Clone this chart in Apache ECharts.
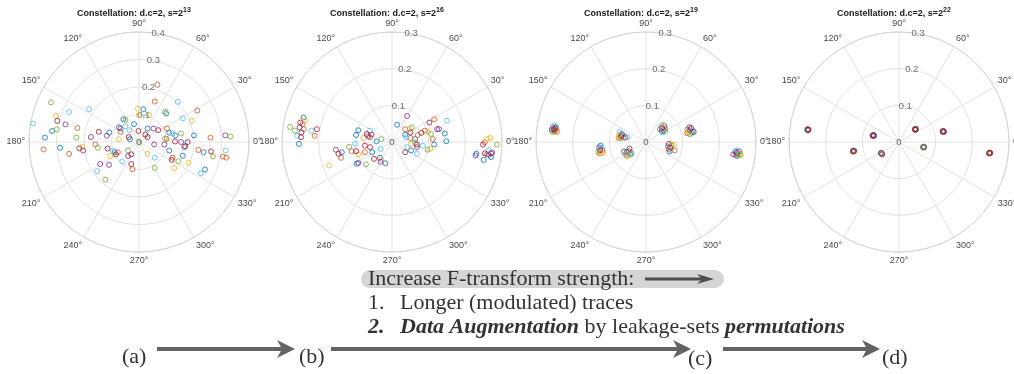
<!DOCTYPE html>
<html>
<head>
<meta charset="utf-8">
<script src="https://cdn.jsdelivr.net/npm/echarts@6/dist/echarts.min.js"></script>
<style>
  html, body { margin: 0; padding: 0; background: #ffffff; }
  #chart { width: 1014px; height: 374px; }
</style>
</head>
<body>
<div id="chart"></div>
<script>
// MATLAB default colour order, indexed by the third entry of each point
const palette = ['#0072BD', '#D95319', '#EDB120', '#7E2F8E', '#77AC30', '#4DBEEE', '#A2142F'];

// Panel titles: exponent of the number of traces s = 2^k
const sExponents = ['13', '16', '19', '22'];

// Radial extent and radial tick labels for each panel
const rMax = [0.4, 0.3, 0.3, 0.3];
const rTicksWide = [0, 0.1, 0.2, 0.3, 0.4];
const rTicksNarrow = [0, 0.1, 0.2, 0.3];

// Constellation points as [in-phase, quadrature, colour index]
const iqS13 = [
  [-0.385, 0.067, 5], [-0.320, 0.144, 4], [-0.302, 0.095, 2], [-0.297, 0.077, 6], [-0.299, 0.046, 4],
  [-0.267, 0.064, 3], [-0.316, 0.040, 0], [-0.342, 0.016, 0], [-0.347, -0.027, 1], [-0.287, -0.021, 0],
  [-0.254, -0.043, 1], [-0.254, 0.109, 5], [-0.181, 0.119, 5], [-0.224, 0.051, 1], [-0.228, 0.016, 4],
  [-0.217, -0.023, 6], [-0.206, -0.018, 2], [-0.203, -0.031, 3], [-0.175, 0.018, 3], [-0.146, 0.037, 6],
  [-0.159, -0.009, 1], [-0.150, -0.021, 4], [-0.117, 0.023, 3], [-0.108, 0.034, 0], [-0.114, -0.024, 6],
  [-0.095, -0.033, 5], [-0.088, -0.037, 0], [-0.084, -0.045, 6], [-0.104, -0.051, 2], [-0.077, -0.037, 1],
  [-0.061, -0.071, 5], [-0.141, -0.080, 3], [-0.109, -0.083, 3], [-0.152, -0.106, 5], [-0.122, -0.137, 4],
  [-0.024, -0.099, 1], [-0.028, -0.080, 6], [-0.040, -0.051, 3], [-0.028, -0.045, 6], [-0.040, -0.031, 4],
  [-0.073, 0.010, 2], [-0.067, 0.037, 1], [-0.057, 0.083, 0], [-0.050, 0.057, 5], [-0.067, 0.049, 0],
  [-0.073, 0.053, 3], [-0.037, 0.018, 6], [-0.033, 0.010, 0], [-0.035, 0.043, 5], [-0.018, 0.065, 0],
  [-0.049, 0.080, 4], [-0.004, 0.121, 2], [0.016, 0.119, 0], [0.037, 0.098, 2], [0.000, 0.098, 2],
  [0.018, 0.104, 5], [-0.002, 0.040, 6], [0.001, -0.001, 4], [0.031, 0.049, 0], [0.023, 0.027, 6],
  [0.053, 0.049, 3], [0.055, -0.009, 3], [0.031, 0.018, 6], [0.057, 0.147, 1], [0.067, 0.208, 1],
  [0.031, -0.043, 2], [0.057, -0.057, 5], [0.057, -0.094, 4], [0.070, 0.043, 6], [0.102, 0.049, 1],
  [0.110, 0.034, 0], [0.100, 0.011, 1], [0.092, -0.009, 3], [0.094, 0.110, 4], [0.099, 0.104, 0],
  [0.141, 0.146, 5], [0.159, 0.086, 5], [0.192, 0.077, 2], [0.212, 0.114, 1], [0.132, 0.024, 0],
  [0.122, 0.031, 5], [0.095, 0.013, 4], [0.153, 0.031, 4], [0.131, 0.002, 6], [0.153, 0.000, 3],
  [0.165, -0.018, 6], [0.168, -0.015, 0], [0.177, 0.000, 6], [0.110, -0.031, 0], [0.119, -0.065, 6],
  [0.122, -0.057, 1], [0.143, -0.070, 4], [0.159, -0.050, 0], [0.180, -0.075, 2], [0.128, -0.095, 2],
  [0.200, 0.024, 0], [0.260, 0.016, 1], [0.314, 0.024, 3], [0.332, 0.020, 4], [0.216, -0.029, 1],
  [0.235, -0.037, 0], [0.262, -0.034, 6], [0.269, -0.053, 4], [0.305, -0.053, 1], [0.317, -0.057, 1],
  [0.315, -0.031, 5], [0.240, -0.100, 0], [0.225, -0.114, 5]
];

const iqS16 = [
  [-0.241, 0.067, 0], [-0.250, 0.053, 6], [-0.238, 0.059, 2], [-0.252, 0.040, 3], [-0.241, 0.035, 1],
  [-0.247, 0.026, 6], [-0.248, 0.013, 6], [-0.278, 0.041, 4], [-0.265, 0.031, 4], [-0.259, 0.017, 5],
  [-0.254, -0.005, 0], [-0.220, 0.031, 5], [-0.205, 0.035, 6], [-0.211, 0.017, 1], [-0.244, 0.048, 1],
  [-0.092, 0.032, 0], [-0.098, 0.019, 0], [-0.060, 0.031, 5], [-0.069, 0.022, 6], [-0.060, 0.013, 1],
  [-0.078, 0.011, 2], [-0.056, 0.020, 6], [-0.065, 0.016, 3], [-0.029, 0.008, 4], [-0.042, 0.002, 0],
  [-0.101, -0.005, 5], [-0.117, -0.013, 4], [-0.110, -0.025, 1], [-0.098, -0.025, 6], [-0.092, -0.034, 2],
  [-0.074, -0.010, 6], [-0.074, -0.028, 1], [-0.060, -0.014, 6], [-0.054, -0.028, 0], [-0.031, -0.019, 5],
  [-0.153, -0.021, 3], [-0.137, -0.028, 0], [-0.146, -0.032, 6], [-0.139, -0.043, 1], [-0.171, -0.064, 2],
  [-0.096, -0.059, 0], [-0.092, -0.057, 3], [-0.071, -0.061, 4], [-0.049, -0.046, 6], [-0.033, -0.043, 0],
  [-0.029, -0.049, 2], [-0.031, -0.054, 3], [-0.018, -0.058, 0],
  [0.014, 0.047, 0], [0.041, 0.071, 3], [0.036, 0.035, 1], [0.048, 0.036, 2], [0.054, 0.040, 4],
  [0.036, 0.020, 0], [0.039, 0.013, 5], [0.050, 0.026, 6], [0.050, 0.011, 1], [0.063, 0.008, 0],
  [0.070, 0.019, 1], [0.063, -0.001, 4], [0.068, -0.007, 6], [0.068, -0.014, 3], [0.052, -0.023, 0],
  [0.068, -0.032, 5], [0.036, -0.028, 6], [0.041, -0.014, 5], [0.052, -0.005, 2], [0.102, 0.053, 6],
  [0.115, 0.062, 1], [0.090, 0.031, 1], [0.080, 0.025, 6], [0.106, 0.022, 4], [0.111, 0.008, 1],
  [0.123, 0.035, 3], [0.128, 0.035, 3], [0.098, 0.028, 2], [0.115, -0.007, 0], [0.097, -0.021, 4],
  [0.104, -0.019, 2], [0.150, 0.058, 5], [0.144, 0.023, 0], [0.148, 0.002, 0], [0.084, -0.010, 5],
  [0.259, 0.008, 2], [0.268, 0.011, 2], [0.253, -0.001, 1], [0.248, -0.007, 6], [0.286, -0.007, 4],
  [0.264, -0.022, 5], [0.253, -0.031, 6], [0.259, -0.034, 1], [0.270, -0.031, 6], [0.270, -0.041, 0],
  [0.228, -0.037, 3], [0.230, -0.032, 0], [0.250, -0.049, 0], [0.264, -0.035, 0], [0.273, -0.029, 3]
];

const iqS19 = [
  [-0.250, 0.046, 5], [-0.254, 0.040, 3], [-0.246, 0.041, 0], [-0.251, 0.035, 6], [-0.257, 0.033, 3],
  [-0.244, 0.034, 2], [-0.249, 0.029, 1], [-0.255, 0.027, 4], [-0.243, 0.028, 1], [-0.250, 0.031, 0],
  [-0.247, 0.037, 6],
  [-0.072, 0.027, 5], [-0.066, 0.022, 0], [-0.074, 0.018, 2], [-0.068, 0.016, 6], [-0.061, 0.013, 1],
  [-0.075, 0.011, 1], [-0.069, 0.010, 4], [-0.056, 0.012, 3], [-0.050, 0.014, 5], [-0.064, 0.019, 0],
  [-0.124, -0.010, 0], [-0.128, -0.015, 3], [-0.120, -0.016, 5], [-0.125, -0.022, 6], [-0.119, -0.024, 1],
  [-0.130, -0.026, 4], [-0.123, -0.030, 2], [-0.116, -0.030, 2], [-0.127, -0.031, 1],
  [-0.045, -0.018, 6], [-0.060, -0.026, 3], [-0.052, -0.027, 0], [-0.046, -0.025, 1], [-0.041, -0.028, 5],
  [-0.056, -0.033, 4], [-0.049, -0.034, 2], [-0.043, -0.034, 0], [-0.052, -0.038, 1], [-0.040, -0.032, 4],
  [0.046, 0.047, 2], [0.041, 0.043, 5], [0.050, 0.044, 0], [0.044, 0.038, 6], [0.052, 0.037, 1],
  [0.038, 0.035, 1], [0.048, 0.032, 3], [0.043, 0.029, 0], [0.053, 0.030, 4], [0.046, 0.026, 5],
  [0.118, 0.040, 3], [0.123, 0.038, 6], [0.113, 0.034, 1], [0.120, 0.032, 0], [0.128, 0.031, 5],
  [0.116, 0.027, 2], [0.125, 0.025, 0], [0.112, 0.024, 1], [0.120, 0.021, 4], [0.130, 0.028, 6],
  [0.062, -0.005, 3], [0.068, -0.006, 2], [0.070, -0.010, 4], [0.060, -0.012, 0], [0.066, -0.015, 6],
  [0.076, -0.008, 2], [0.062, -0.020, 1], [0.068, -0.022, 5], [0.078, -0.023, 1], [0.064, -0.026, 0],
  [0.250, -0.023, 5], [0.244, -0.026, 0], [0.254, -0.026, 3], [0.248, -0.030, 6], [0.257, -0.032, 2],
  [0.238, -0.034, 3], [0.244, -0.035, 1], [0.252, -0.036, 4], [0.258, -0.036, 4], [0.248, -0.038, 0]
];

const iqS22 = [
  [-0.249, 0.034, 0], [-0.250, 0.032, 1], [-0.248, 0.033, 6], [-0.249, 0.031, 4], [-0.250, 0.035, 3],
  [-0.248, 0.032, 2], [-0.251, 0.033, 5], [-0.247, 0.034, 6],
  [-0.070, 0.019, 0], [-0.071, 0.017, 3], [-0.069, 0.018, 6], [-0.070, 0.016, 1], [-0.069, 0.020, 5],
  [-0.072, 0.018, 6], [-0.068, 0.017, 0],
  [-0.124, -0.024, 0], [-0.125, -0.026, 1], [-0.123, -0.025, 6], [-0.124, -0.027, 2], [-0.125, -0.023, 5],
  [-0.124, -0.025, 4], [-0.126, -0.025, 6], [-0.122, -0.024, 0],
  [-0.048, -0.029, 2], [-0.049, -0.032, 4], [-0.047, -0.031, 0], [-0.046, -0.034, 3], [-0.049, -0.030, 6],
  [-0.047, -0.033, 1], [-0.050, -0.031, 5],
  [0.045, 0.036, 0], [0.046, 0.034, 1], [0.044, 0.035, 6], [0.045, 0.033, 3], [0.046, 0.036, 4],
  [0.043, 0.034, 6], [0.047, 0.035, 0],
  [0.121, 0.030, 5], [0.120, 0.028, 0], [0.122, 0.029, 6], [0.121, 0.027, 1], [0.120, 0.030, 3],
  [0.119, 0.029, 6], [0.123, 0.028, 0],
  [0.067, -0.013, 5], [0.066, -0.015, 1], [0.068, -0.014, 6], [0.067, -0.016, 2], [0.066, -0.013, 0],
  [0.069, -0.013, 5], [0.065, -0.014, 4],
  [0.247, -0.029, 4], [0.248, -0.031, 0], [0.246, -0.030, 6], [0.247, -0.032, 2], [0.248, -0.029, 1],
  [0.249, -0.030, 6], [0.245, -0.031, 0]
];

const panelData = [iqS13, iqS16, iqS19, iqS22];
const panelTicks = [rTicksWide, rTicksNarrow, rTicksNarrow, rTicksNarrow];

// Layout of the four polar plots
const centersX = [139, 392, 646, 899];
const centerY = 142;
const plotRadius = 110;

const gridColor = '#e2e2e2';
const axisTextColor = '#4a4a4a';
const sansFont = 'Liberation Sans, Arial, sans-serif';
const serifFont = 'Liberation Serif, Times New Roman, serif';

function toPolar(i, q) {
  const r = Math.hypot(i, q);
  let a = Math.atan2(q, i) * 180 / Math.PI;
  if (a < 0) a += 360;
  return [r, a];
}

const polar = [], angleAxis = [], radiusAxis = [], series = [], title = [];

panelData.forEach((pts, p) => {
  polar.push({ center: [centersX[p], centerY], radius: plotRadius });
  angleAxis.push({
    polarIndex: p, type: 'value', min: 0, max: 360, interval: 30,
    startAngle: 0, clockwise: false,
    axisLine: { lineStyle: { color: '#d6d6d6', width: 1 } },
    axisTick: { show: false },
    axisLabel: {
      margin: 4, color: axisTextColor, fontSize: 9, fontFamily: sansFont,
      formatter: v => (v >= 360 ? '' : v + '°')
    },
    splitLine: { show: true, lineStyle: { color: gridColor, width: 1 } }
  });
  radiusAxis.push({
    polarIndex: p, type: 'value', min: 0, max: rMax[p], interval: 0.1,
    axisLine: { show: false }, axisTick: { show: false }, axisLabel: { show: false },
    splitLine: { show: true, lineStyle: { color: gridColor, width: 1 } }
  });

  // radial tick labels placed along the 80° direction
  series.push({
    type: 'scatter', coordinateSystem: 'polar', polarIndex: p, silent: true,
    symbolSize: 0, z: 1,
    data: panelTicks[p].map(t => [t, 80]),
    label: {
      show: true, position: 'inside', color: axisTextColor, fontSize: 9.5, fontFamily: sansFont,
      formatter: d => String(Math.round(d.value[0] * 10) / 10)
    }
  });

  palette.forEach((col, c) => {
    series.push({
      type: 'scatter', coordinateSystem: 'polar', polarIndex: p, z: 3,
      symbol: 'circle', symbolSize: 5,
      itemStyle: { color: 'rgba(0,0,0,0)', borderColor: col, borderWidth: 1 },
      data: pts.filter(d => d[2] === c).map(d => toPolar(d[0], d[1]))
    });
  });

  title.push({
    text: '{t|Constellation: d.c=2, s=2}{e|' + sExponents[p] + '}',
    left: centersX[p] - 10, top: 2, textAlign: 'center',
    textStyle: {
      rich: {
        t: { fontSize: 9, fontWeight: 'bold', color: '#1a1a1a', fontFamily: sansFont },
        e: { fontSize: 7, fontWeight: 'bold', color: '#1a1a1a', fontFamily: sansFont, padding: [0, 0, 6, 0] }
      }
    }
  });
});

// Arrow built from a shaft and a notched head
function arrow(x1, x2, y, w, headLen, headHalf, notch, color) {
  return [
    { type: 'line', shape: { x1: x1, y1: y, x2: x2 - headLen + notch, y2: y },
      style: { stroke: color, lineWidth: w } },
    { type: 'polygon', shape: { points: [[x2, y], [x2 - headLen, y - headHalf], [x2 - headLen + notch, y], [x2 - headLen, y + headHalf]] },
      style: { fill: color } }
  ];
}

const textColor = '#333333';
const arrowColor = '#636363';

const graphic = [
  { type: 'rect', shape: { x: 361, y: 270, width: 363, height: 18, r: 9 }, style: { fill: '#d5d5d5' } },
  { type: 'text', x: 368, y: 279, style: { text: 'Increase F-transform strength:', font: '22px ' + serifFont, fill: textColor, verticalAlign: 'middle' } },
  ...arrow(645, 714, 279, 3, 17, 5, 5, '#4d4d4d'),
  { type: 'text', x: 368, y: 303, style: { text: '1.', font: '22px ' + serifFont, fill: textColor, verticalAlign: 'middle' } },
  { type: 'text', x: 400, y: 303, style: { text: 'Longer (modulated) traces', font: '22px ' + serifFont, fill: textColor, verticalAlign: 'middle' } },
  { type: 'text', x: 368, y: 327, style: { text: '2.', font: 'italic bold 22px ' + serifFont, fill: textColor, verticalAlign: 'middle' } },
  { type: 'text', x: 400, y: 327, style: {
      text: '{b|Data Augmentation}{n| by leakage-sets }{b|permutations}', verticalAlign: 'middle',
      rich: {
        b: { font: 'italic bold 22px ' + serifFont, fill: textColor },
        n: { font: '22px ' + serifFont, fill: textColor }
      } } },
  { type: 'text', x: 122, y: 357, style: { text: '(a)', font: '22px ' + serifFont, fill: textColor, verticalAlign: 'middle' } },
  { type: 'text', x: 299, y: 357, style: { text: '(b)', font: '22px ' + serifFont, fill: textColor, verticalAlign: 'middle' } },
  { type: 'text', x: 688, y: 359, style: { text: '(c)', font: '22px ' + serifFont, fill: textColor, verticalAlign: 'middle' } },
  { type: 'text', x: 882, y: 358, style: { text: '(d)', font: '22px ' + serifFont, fill: textColor, verticalAlign: 'middle' } },
  ...arrow(157, 295, 349, 4, 18, 9, 5, arrowColor),
  ...arrow(331, 691, 349, 4, 18, 9, 5, arrowColor),
  ...arrow(723, 880, 349, 4, 18, 9, 5, arrowColor)
];

const chart = echarts.init(document.getElementById('chart'), null, { renderer: 'canvas' });
chart.setOption({
  animation: false,
  backgroundColor: '#ffffff',
  title: title,
  polar: polar,
  angleAxis: angleAxis,
  radiusAxis: radiusAxis,
  series: series,
  graphic: graphic
});
</script>
</body>
</html>
